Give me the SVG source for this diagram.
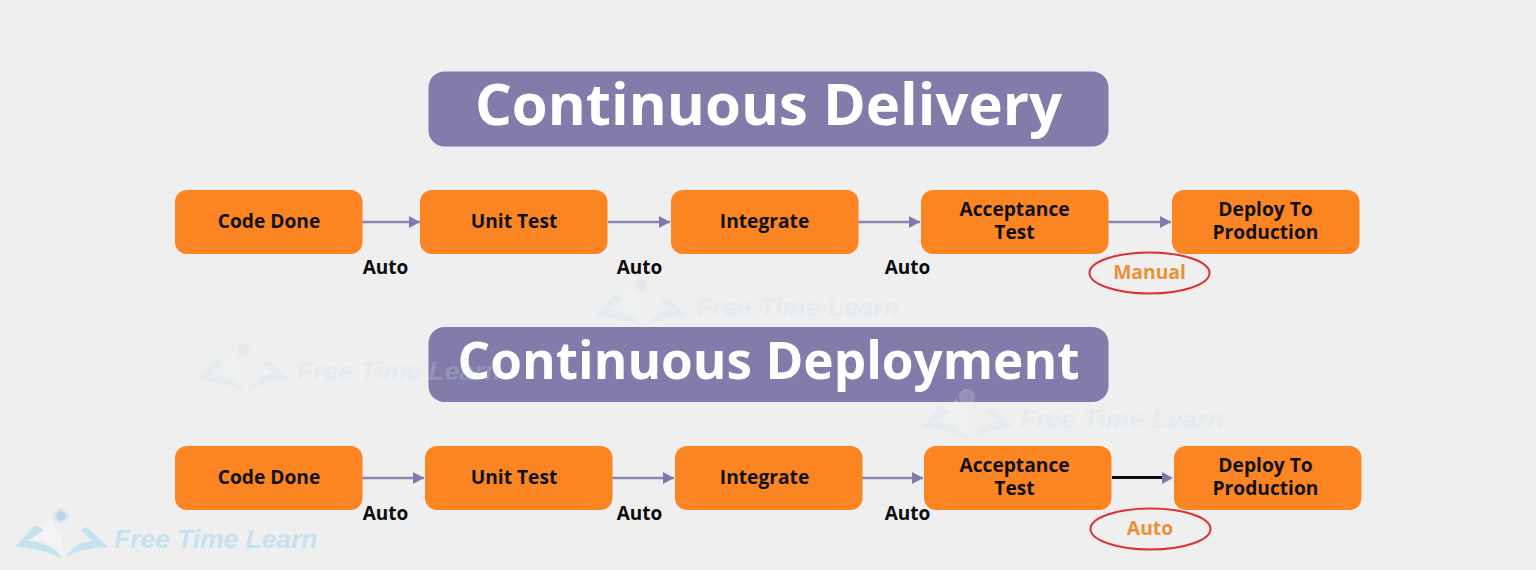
<svg xmlns="http://www.w3.org/2000/svg" width="1536" height="570" viewBox="0 0 1536 570">
<style>
text{font-family:"Open Sans","Noto Sans","Liberation Sans",sans-serif;font-weight:700;text-anchor:middle}
.box{fill:#fb8522}
.t{font-size:19.2px;fill:#111}
.a{font-size:19px;fill:#0c0c0c}
.o{font-size:19.3px;fill:#ec9038}
.h{fill:#837ba9}
.ht{font-size:58px;fill:#fff}
.ht2{font-size:51.300px;fill:#fff}
.c{fill:none;stroke:#8a84b0;stroke-width:2.4;marker-end:url(#ah)}
.e{fill:none;stroke:#dc3232;stroke-width:2}
.wt{font-family:"Liberation Sans",Arial,sans-serif;font-style:italic;font-size:26.400px;text-anchor:start;fill:#c6e2ef}
</style>
<defs>
<marker id="ah" markerUnits="userSpaceOnUse" markerWidth="12" markerHeight="14" refX="11" refY="7" orient="auto"><path d="M0 1L11 7L0 13Z" fill="#8079ac"/></marker>
<g id="logo">
<path d="M44 35L50 27L63 47L62 66Q55 50 32 50Z" fill="#f3f4f5"/>
<path d="M15 57L35 35L44 40L28 51Q50 52 62 67L60 68Q42 58 15 57Z" fill="#c6e2ef"/>
<path d="M108 57L87 37L80 40L93 51Q76 51 66 67Q85 57 108 57Z" fill="#c6e2ef"/>
<circle cx="61" cy="26" r="8" fill="#e0e8ef"/>
<circle cx="61" cy="26" r="5" fill="#bcd5ea"/>
</g>
</defs>
<rect width="1536" height="570" fill="#efefef"/>

<g id="connectors">
<path class="c" d="M362 222H420"/>
<path class="c" d="M608 222H670"/>
<path class="c" d="M858 222H920"/>
<path class="c" d="M1108 222H1171"/>
<path class="c" d="M362 478H424"/>
<path class="c" d="M612 478H674"/>
<path class="c" d="M862 478H923"/>
<path d="M1112 477.500H1163" fill="none" stroke="#0a0a14" stroke-width="3"/>
<path d="M1162 472L1173 478L1162 484Z" fill="#8079ac"/>
</g>

<g id="header-delivery"><rect class="h" x="428.500" y="71.500" width="680" height="75" rx="16"/><text class="ht" x="768.500" y="125">Continuous Delivery</text></g>
<g id="header-deployment"><rect class="h" x="428.500" y="327" width="680" height="75" rx="16"/><text class="ht2" x="768.500" y="379">Continuous Deployment</text></g>

<g id="d1"><rect class="box" x="175" y="190" width="187.500" height="64" rx="12"/><text class="t" x="269" y="227.500">Code Done</text></g>
<g id="d2"><rect class="box" x="420" y="190" width="187.500" height="64" rx="12"/><text class="t" x="514" y="227.500">Unit Test</text></g>
<g id="d3"><rect class="box" x="671" y="190" width="187.500" height="64" rx="12"/><text class="t" x="764.500" y="227.500">Integrate</text></g>
<g id="d4"><rect class="box" x="921" y="190" width="187.500" height="64" rx="12"/><text class="t" x="1014.500" y="216">Acceptance</text><text class="t" x="1014.500" y="239">Test</text></g>
<g id="d5"><rect class="box" x="1172" y="190" width="187.500" height="64" rx="12"/><text class="t" x="1265.500" y="216">Deploy To</text><text class="t" x="1265.500" y="239">Production</text></g>

<g id="p1"><rect class="box" x="175" y="446" width="187.500" height="64" rx="12"/><text class="t" x="269" y="483.500">Code Done</text></g>
<g id="p2"><rect class="box" x="425" y="446" width="187.500" height="64" rx="12"/><text class="t" x="514" y="483.500">Unit Test</text></g>
<g id="p3"><rect class="box" x="675" y="446" width="187.500" height="64" rx="12"/><text class="t" x="764.500" y="483.500">Integrate</text></g>
<g id="p4"><rect class="box" x="924" y="446" width="187.500" height="64" rx="12"/><text class="t" x="1014.500" y="472">Acceptance</text><text class="t" x="1014.500" y="495">Test</text></g>
<g id="p5"><rect class="box" x="1174" y="446" width="187.500" height="64" rx="12"/><text class="t" x="1265.500" y="472">Deploy To</text><text class="t" x="1265.500" y="495">Production</text></g>

<g id="labels">
<text class="a" x="385.500" y="273.500">Auto</text><text class="a" x="639.500" y="273.500">Auto</text><text class="a" x="907.500" y="273.500">Auto</text>
<text class="a" x="385.500" y="519.500">Auto</text><text class="a" x="639.500" y="519.500">Auto</text><text class="a" x="907.500" y="519.500">Auto</text>
</g>
<g id="manual"><ellipse class="e" cx="1149.500" cy="273" rx="60" ry="20.500"/><text class="o" x="1149.500" y="279">Manual</text></g>
<g id="auto"><ellipse class="e" cx="1150.500" cy="529" rx="60" ry="20.500"/><text class="o" x="1150" y="535">Auto</text></g>

<g id="watermarks">
<g opacity=".24"><use href="#logo" x="580" y="259"/><text class="wt" x="696" y="316">Free Time Learn</text></g>
<g opacity=".24"><use href="#logo" x="182" y="323"/><text class="wt" x="297" y="380">Free Time Learn</text></g>
<g opacity=".24"><use href="#logo" x="906" y="371"/><text class="wt" x="1020" y="428">Free Time Learn</text></g>
<g><use href="#logo" x="0" y="490"/><text class="wt" x="114" y="548">Free Time Learn</text></g>
</g>
</svg>
